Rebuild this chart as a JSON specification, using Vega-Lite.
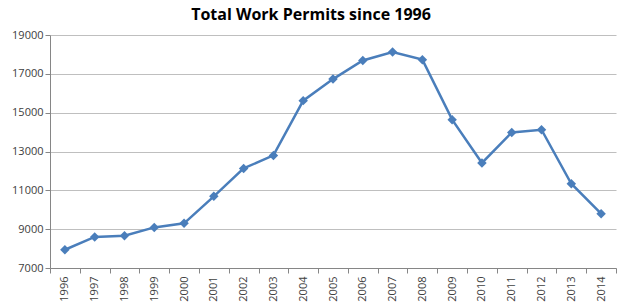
{
  "$schema": "https://vega.github.io/schema/vega-lite/v6.json",
  "width": 566,
  "height": 233,
  "autosize": {"type": "none"},
  "padding": {"left": 50, "top": 35, "right": 4, "bottom": 40},
  "background": "white",
  "title": {
    "text": "Total Work Permits since 1996",
    "font": "Open Sans",
    "fontSize": 16,
    "fontWeight": "bold",
    "color": "#000000",
    "anchor": "middle",
    "dx": -22,
    "offset": 6
  },
  "data": {
    "values": [
      {"year": "1996", "permits": 7940},
      {"year": "1997", "permits": 8600},
      {"year": "1998", "permits": 8660},
      {"year": "1999", "permits": 9090},
      {"year": "2000", "permits": 9300},
      {"year": "2001", "permits": 10690},
      {"year": "2002", "permits": 12130},
      {"year": "2003", "permits": 12800},
      {"year": "2004", "permits": 15620},
      {"year": "2005", "permits": 16730},
      {"year": "2006", "permits": 17690},
      {"year": "2007", "permits": 18120},
      {"year": "2008", "permits": 17730},
      {"year": "2009", "permits": 14640},
      {"year": "2010", "permits": 12410},
      {"year": "2011", "permits": 13980},
      {"year": "2012", "permits": 14120},
      {"year": "2013", "permits": 11340},
      {"year": "2014", "permits": 9800}
    ]
  },
  "encoding": {
    "x": {
      "field": "year",
      "type": "ordinal",
      "scale": {"type": "band", "paddingInner": 0, "paddingOuter": 0},
      "axis": {
        "title": null,
        "labelAngle": -90,
        "labelAlign": "right",
        "labelBaseline": "middle",
        "labelFont": "Open Sans",
        "labelFontSize": 11,
        "labelColor": "#404040",
        "tickBand": "extent",
        "tickColor": "#868686",
        "tickSize": 5,
        "domainColor": "#868686",
        "grid": false,
        "labelPadding": 3
      }
    },
    "y": {
      "field": "permits",
      "type": "quantitative",
      "scale": {"domain": [7000, 19000], "nice": false, "zero": false},
      "axis": {
        "title": null,
        "values": [7000, 9000, 11000, 13000, 15000, 17000, 19000],
        "format": "d",
        "labelFont": "Open Sans",
        "labelFontSize": 11,
        "labelColor": "#404040",
        "grid": true,
        "gridColor": "#BFBFBF",
        "gridWidth": 1,
        "tickColor": "#868686",
        "tickSize": 5,
        "domainColor": "#868686",
        "labelPadding": 2
      }
    }
  },
  "layer": [
    {
      "mark": {"type": "line", "color": "#4A7EBB", "strokeWidth": 2.5}
    },
    {
      "mark": {"type": "point", "shape": "diamond", "filled": true, "color": "#4A7EBB", "size": 90, "opacity": 1}
    }
  ],
  "config": {
    "view": {"stroke": null}
  }
}
